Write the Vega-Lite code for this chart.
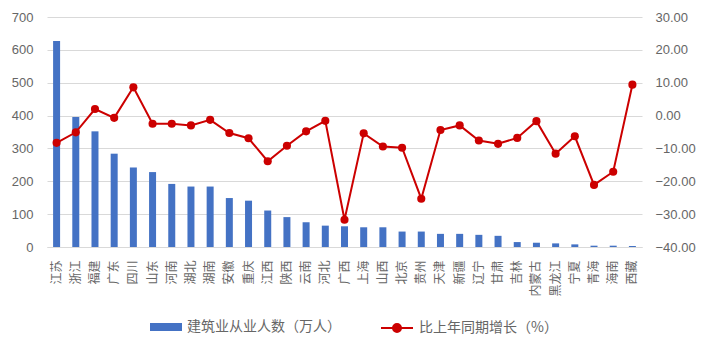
{
  "$schema": "https://vega.github.io/schema/vega-lite/v6.json",
  "autosize": "none",
  "width": 595,
  "height": 230,
  "padding": {"left": 47, "top": 17, "right": 66, "bottom": 105},
  "background": "white",
  "config": {
    "view": {"stroke": null},
    "font": "Noto Sans CJK SC",
    "axis": {"labelFont": "Noto Sans CJK SC", "labelColor": "#666666", "titleColor": "#666666"},
    "legend": {"labelFont": "Noto Sans CJK SC", "labelColor": "#666666"}
  },
  "data": {
    "values": [
      {"name": "江苏", "workers": 627, "growth": -8.3},
      {"name": "浙江", "workers": 396, "growth": -5.1},
      {"name": "福建", "workers": 352, "growth": 2.0},
      {"name": "广东", "workers": 284, "growth": -0.7},
      {"name": "四川", "workers": 242, "growth": 8.6},
      {"name": "山东", "workers": 228, "growth": -2.5},
      {"name": "河南", "workers": 192, "growth": -2.5},
      {"name": "湖北", "workers": 184, "growth": -3.0},
      {"name": "湖南", "workers": 184, "growth": -1.3},
      {"name": "安徽", "workers": 149, "growth": -5.3},
      {"name": "重庆", "workers": 141, "growth": -6.9},
      {"name": "江西", "workers": 111, "growth": -13.9},
      {"name": "陕西", "workers": 91, "growth": -9.2},
      {"name": "云南", "workers": 75, "growth": -4.8},
      {"name": "河北", "workers": 65, "growth": -1.6},
      {"name": "广西", "workers": 63, "growth": -31.7},
      {"name": "上海", "workers": 60, "growth": -5.4},
      {"name": "山西", "workers": 60, "growth": -9.4},
      {"name": "北京", "workers": 47, "growth": -9.8},
      {"name": "贵州", "workers": 47, "growth": -25.3},
      {"name": "天津", "workers": 40, "growth": -4.4},
      {"name": "新疆", "workers": 40, "growth": -3.0},
      {"name": "辽宁", "workers": 37, "growth": -7.6},
      {"name": "甘肃", "workers": 34, "growth": -8.6},
      {"name": "吉林", "workers": 15, "growth": -6.8},
      {"name": "内蒙古", "workers": 13, "growth": -1.7},
      {"name": "黑龙江", "workers": 11, "growth": -11.6},
      {"name": "宁夏", "workers": 8, "growth": -6.3},
      {"name": "青海", "workers": 4, "growth": -21.1},
      {"name": "海南", "workers": 4, "growth": -17.1},
      {"name": "西藏", "workers": 3, "growth": 9.4}
    ]
  },
  "encoding": {
    "x": {
      "field": "name",
      "type": "nominal",
      "sort": null,
      "title": null,
      "scale": {"paddingInner": 0, "paddingOuter": 0},
      "axis": {
        "labelAngle": -90,
        "labelFontSize": 12,
        "labelPadding": 13,
        "ticks": false,
        "domainColor": "#D9D9D9",
        "domainWidth": 1
      }
    }
  },
  "layer": [
    {
      "mark": {"type": "bar", "size": 7},
      "encoding": {
        "y": {
          "field": "workers",
          "type": "quantitative",
          "title": null,
          "scale": {"domain": [0, 700]},
          "axis": {
            "values": [0, 100, 200, 300, 400, 500, 600, 700],
            "domain": false,
            "ticks": false,
            "grid": true,
            "gridColor": "#D9D9D9",
            "labelFont": "Liberation Sans",
            "labelFontSize": 13,
            "labelPadding": 14
          }
        },
        "fill": {
          "datum": "建筑业从业人数（万人）",
          "type": "nominal",
          "scale": {"range": ["#4472C4"]},
          "legend": {
            "title": null,
            "orient": "none",
            "legendX": 103,
            "legendY": 294,
            "symbolType": "M-1,-0.25H1V0.25H-1Z",
            "symbolSize": 1024,
            "symbolStrokeWidth": 0,
            "labelFontSize": 14,
            "labelOffset": 5
          }
        }
      }
    },
    {
      "mark": {"type": "line", "strokeWidth": 2},
      "encoding": {
        "y": {
          "field": "growth",
          "type": "quantitative",
          "title": null,
          "scale": {"domain": [-40, 30]},
          "axis": {
            "orient": "right",
            "values": [-40, -30, -20, -10, 0, 10, 20, 30],
            "format": ".2f",
            "domain": false,
            "ticks": false,
            "grid": false,
            "labelFont": "Liberation Sans",
            "labelFontSize": 13,
            "labelPadding": 13
          }
        },
        "stroke": {
          "datum": "比上年同期增长（%）",
          "type": "nominal",
          "scale": {"range": ["#CC0000"]},
          "legend": {
            "title": null,
            "orient": "none",
            "legendX": 333,
            "legendY": 294,
            "symbolType": "M-1,0H1M-0.25,0A0.25,0.25 0 1,0 0.25,0A0.25,0.25 0 1,0 -0.25,0Z",
            "symbolSize": 1024,
            "symbolFillColor": "#CC0000",
            "symbolStrokeColor": "#CC0000",
            "symbolStrokeWidth": 2,
            "labelFontSize": 14,
            "labelOffset": 5
          }
        }
      }
    },
    {
      "mark": {"type": "circle", "size": 66, "color": "#CC0000", "opacity": 1},
      "encoding": {
        "y": {"field": "growth", "type": "quantitative", "scale": {"domain": [-40, 30]}, "axis": null}
      }
    }
  ],
  "resolve": {"scale": {"y": "independent", "fill": "independent", "stroke": "independent"}}
}
